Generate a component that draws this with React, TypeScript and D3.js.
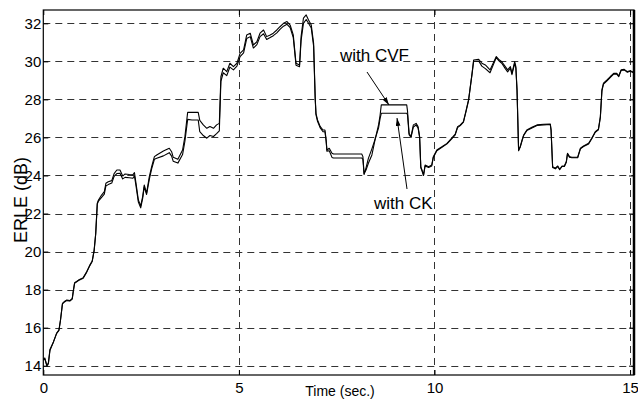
import React, { useEffect, useRef } from "react";
import * as d3 from "d3";

// time axis shared by both curves (seconds)
const time = [
  0.00, 0.04, 0.09, 0.13, 0.17, 0.26, 0.34, 0.40, 0.44, 0.49, 0.53, 0.60, 0.68, 0.74, 0.77, 0.80, 0.90,
  1.02, 1.11, 1.19, 1.25, 1.30, 1.34, 1.38, 1.41, 1.49, 1.56, 1.60, 1.66, 1.75, 1.81, 1.88, 1.96,
  2.03, 2.09, 2.20, 2.29, 2.33, 2.37, 2.43, 2.49, 2.54, 2.58, 2.64, 2.71, 2.77, 2.84, 2.90,
  3.07, 3.22, 3.28, 3.32, 3.44, 3.56, 3.62, 3.69, 3.80, 3.96,
  4.00, 4.09, 4.18, 4.26, 4.35, 4.43, 4.50, 4.54, 4.60, 4.69, 4.77, 4.86, 4.95,
  5.03, 5.12, 5.20, 5.29, 5.37, 5.46, 5.54, 5.63, 5.71, 5.80, 5.88, 5.97,
  6.05, 6.14, 6.23, 6.31, 6.39, 6.46, 6.55, 6.59, 6.65, 6.72, 6.78, 6.85, 6.91, 6.95, 6.97,
  7.01, 7.08, 7.15, 7.20, 7.23, 7.25, 7.31, 7.38, 7.42,
  8.14, 8.17, 8.20, 8.25, 8.31, 8.40, 8.48, 8.57, 8.61, 8.64,
  9.29, 9.31, 9.35, 9.40, 9.46, 9.53, 9.58, 9.62, 9.65, 9.68, 9.72, 9.76, 9.85, 9.93, 9.97,
  10.06, 10.19, 10.32, 10.44, 10.53, 10.59, 10.66, 10.74, 10.81, 10.87, 10.91, 10.96,
  11.00, 11.13, 11.21, 11.30, 11.42, 11.50, 11.58, 11.66, 11.72, 11.81, 11.87, 11.94, 11.98,
  12.05, 12.08, 12.11, 12.15, 12.19, 12.24, 12.28, 12.36, 12.49, 12.62, 12.79, 12.96, 12.98,
  13.02, 13.09, 13.15, 13.20, 13.26, 13.32, 13.37, 13.40, 13.45, 13.51, 13.66, 13.73, 13.81, 13.94,
  14.02, 14.11, 14.19, 14.24, 14.28, 14.32, 14.41, 14.49, 14.58, 14.66, 14.71, 14.77, 14.85, 14.93,
  15.00, 15.09,
];

// ERLE (dB) with CVF
const erleCVF = [
  14.35, 14.40, 14.00, 14.15, 14.85, 15.25, 15.70, 15.88, 16.40, 17.28, 17.36, 17.45, 17.42, 17.54, 17.98, 18.36, 18.50,
  18.63, 18.94, 19.29, 19.50, 20.08, 20.96, 22.54, 22.71, 22.97, 23.15, 23.59, 23.67, 23.73, 24.10, 24.29, 24.29,
  23.97, 24.08, 24.05, 24.03, 24.15, 23.59, 22.71, 22.40, 22.89, 23.50, 23.07, 23.94, 24.46, 24.99, 25.08,
  25.29, 25.43, 25.25, 24.96, 24.85, 25.34, 26.04, 27.32, 27.32, 27.32,
  26.90, 26.66, 26.48, 26.57, 26.48, 26.66, 26.74, 29.19, 29.64, 29.46, 29.90, 29.72, 29.90,
  30.42, 30.60, 31.39, 31.48, 30.86, 31.03, 31.48, 31.65, 31.30, 31.39, 31.48, 31.65,
  31.82, 32.00, 32.09, 31.91, 31.39, 29.90, 29.81, 31.30, 32.27, 32.44, 32.18, 31.91, 30.95, 28.14, 27.27,
  26.92, 26.57, 26.39, 26.39, 25.87, 25.34, 25.43, 25.17, 25.13,
  25.13, 24.99, 24.11, 24.29, 24.64, 25.08, 25.87, 26.66, 27.18, 27.71,
  27.71, 27.40, 26.22, 26.04, 26.66, 26.74, 26.57, 26.04, 24.46, 24.29, 24.03, 24.55, 24.46, 24.55, 24.99,
  25.34, 25.51, 25.69, 25.96, 26.17, 26.57, 26.66, 26.83, 27.44, 27.97, 28.58, 29.37,
  30.07, 30.11, 29.90, 29.81, 29.55, 29.90, 30.25, 30.07, 29.98, 29.72, 29.55, 29.72, 29.37,
  29.98, 29.72, 28.50, 25.34, 25.51, 25.87, 26.13, 26.39, 26.53, 26.66, 26.69, 26.71, 26.40,
  24.46, 24.38, 24.50, 24.33, 24.50, 24.50, 24.73, 25.17, 24.99, 24.96, 24.96, 25.43, 25.55, 25.69,
  25.96, 26.30, 26.43, 27.09, 28.50, 28.85, 29.02, 29.19, 29.37, 29.37, 29.23, 29.55, 29.58, 29.46,
  29.51, 29.43,
];

// ERLE (dB) with CK
const erleCK = [
  14.30, 14.35, 14.00, 14.10, 14.80, 15.25, 15.70, 15.85, 16.40, 17.25, 17.33, 17.42, 17.40, 17.50, 17.95, 18.33, 18.48,
  18.60, 18.92, 19.26, 19.48, 20.05, 20.92, 22.50, 22.65, 22.85, 23.02, 23.45, 23.52, 23.60, 23.95, 24.10, 24.12,
  23.82, 23.90, 23.88, 23.85, 23.98, 23.45, 22.60, 22.30, 22.80, 23.40, 23.00, 23.80, 24.35, 24.85, 24.90,
  25.03, 25.20, 25.02, 24.75, 24.65, 25.10, 25.80, 26.95, 26.92, 26.92,
  26.30, 26.10, 25.96, 26.10, 26.05, 26.20, 26.35, 28.95, 29.40, 29.25, 29.70, 29.55, 29.75,
  30.25, 30.45, 31.20, 31.30, 30.70, 30.88, 31.30, 31.45, 31.15, 31.25, 31.35, 31.50,
  31.68, 31.85, 31.95, 31.78, 31.25, 29.80, 29.72, 31.10, 32.00, 32.20, 32.00, 31.75, 30.80, 28.05, 27.20,
  26.85, 26.50, 26.30, 26.30, 25.80, 25.28, 25.30, 24.95, 24.92,
  24.92, 24.85, 24.05, 24.40, 24.90, 25.40, 25.90, 26.50, 27.00, 27.27,
  27.27, 27.20, 26.15, 26.00, 26.55, 26.65, 26.50, 26.00, 24.40, 24.25, 24.00, 24.50, 24.42, 24.50, 24.95,
  25.30, 25.48, 25.66, 25.92, 26.14, 26.52, 26.62, 26.80, 27.40, 27.93, 28.55, 29.33,
  30.00, 30.02, 29.75, 29.62, 29.40, 29.80, 30.20, 30.00, 29.90, 29.62, 29.45, 29.65, 29.30,
  29.90, 29.65, 28.45, 25.30, 25.48, 25.84, 26.10, 26.36, 26.50, 26.63, 26.66, 26.68, 26.38,
  24.42, 24.35, 24.47, 24.30, 24.47, 24.47, 24.70, 25.14, 24.96, 24.93, 24.93, 25.40, 25.52, 25.66,
  25.93, 26.27, 26.40, 27.05, 28.45, 28.80, 28.98, 29.15, 29.33, 29.33, 29.20, 29.52, 29.55, 29.43,
  29.48, 29.40,
];

const xTicks = [0, 5, 10, 15];
const yTicks = [14, 16, 18, 20, 22, 24, 26, 28, 30, 32];

const W = 638;
const H = 401;
const LEFT = 43.3;
const RIGHT = 634;
const TOP = 10;
const BOTTOM = 375;
const FONT = "'Liberation Sans', Arial, sans-serif";

export default function App() {
  const svgRef = useRef<SVGSVGElement | null>(null);

  useEffect(() => {
    if (!svgRef.current) return;
    const svg = d3.select(svgRef.current);
    svg.selectAll("*").remove();

    const x = d3.scaleLinear().domain([0, 15.1]).range([LEFT, RIGHT]);
    const y = d3.scaleLinear().domain([13.51, 32.7]).range([BOTTOM, TOP]);

    svg.append("rect").attr("width", W).attr("height", H).attr("fill", "#fff");

    const defs = svg.append("defs");
    defs.append("marker")
      .attr("id", "arrow")
      .attr("viewBox", "0 0 10 6")
      .attr("refX", 10).attr("refY", 3)
      .attr("markerWidth", 8).attr("markerHeight", 5)
      .attr("markerUnits", "userSpaceOnUse")
      .attr("orient", "auto")
      .append("path")
      .attr("d", "M0,0 L10,3 L0,6 Z")
      .attr("fill", "#000");

    // ── Grid ─────────────────────────────────────────────
    const grid = svg.append("g").attr("stroke", "#333").attr("stroke-width", 1).attr("stroke-dasharray", "7,5");
    yTicks.forEach(v => {
      grid.append("line")
        .attr("x1", LEFT).attr("x2", RIGHT)
        .attr("y1", Math.round(y(v)) + 0.5).attr("y2", Math.round(y(v)) + 0.5);
    });
    xTicks.filter(v => v > 0).forEach(v => {
      grid.append("line")
        .attr("x1", Math.round(x(v)) + 0.5).attr("x2", Math.round(x(v)) + 0.5)
        .attr("y1", TOP).attr("y2", BOTTOM);
    });

    // ── Axes (ticks inward) ──────────────────────────────
    const styleAxis = (g: d3.Selection<SVGGElement, unknown, null, undefined>) => {
      g.select(".domain").remove();
      g.selectAll(".tick line").attr("stroke", "#000");
      g.selectAll(".tick text")
        .attr("fill", "#000")
        .attr("font-size", "15px")
        .attr("font-family", FONT);
    };

    svg.append("g")
      .attr("transform", `translate(${LEFT},0)`)
      .call(d3.axisLeft(y).tickValues(yTicks).tickFormat(d3.format("d")).tickSize(-5).tickPadding(2))
      .call(styleAxis);

    svg.append("g")
      .attr("transform", `translate(${RIGHT},0)`)
      .call(d3.axisRight(y).tickValues(yTicks).tickSize(-5).tickFormat(() => ""))
      .call(styleAxis);

    svg.append("g")
      .attr("transform", `translate(0,${BOTTOM})`)
      .call(d3.axisBottom(x).tickValues(xTicks).tickFormat(d3.format("d")).tickSize(-5).tickPadding(7))
      .call(styleAxis);

    svg.append("g")
      .attr("transform", `translate(0,${TOP})`)
      .call(d3.axisTop(x).tickValues(xTicks).tickSize(-5).tickFormat(() => ""))
      .call(styleAxis);

    // ── Frame ────────────────────────────────────────────
    svg.append("rect")
      .attr("x", LEFT).attr("y", TOP)
      .attr("width", RIGHT - LEFT).attr("height", BOTTOM - TOP)
      .attr("fill", "none").attr("stroke", "#000").attr("stroke-width", 1.2);
    svg.append("line")
      .attr("x1", RIGHT).attr("x2", RIGHT).attr("y1", TOP).attr("y2", BOTTOM)
      .attr("stroke", "#000").attr("stroke-width", 2.5);

    // ── Curves ───────────────────────────────────────────
    const line = d3.line<number>()
      .x((_, i) => x(time[i]))
      .y(d => y(d));

    [erleCK, erleCVF].forEach(series => {
      svg.append("path")
        .datum(series)
        .attr("d", line)
        .attr("fill", "none")
        .attr("stroke", "#000")
        .attr("stroke-width", 1.1)
        .attr("stroke-linejoin", "round");
    });

    // ── Labels ───────────────────────────────────────────
    svg.append("text")
      .attr("x", 340).attr("y", 396)
      .attr("text-anchor", "middle")
      .attr("font-size", "14px").attr("font-family", FONT)
      .text("Time (sec.)");

    svg.append("text")
      .attr("transform", "translate(27,200) rotate(-90)")
      .attr("text-anchor", "middle")
      .attr("font-size", "18px").attr("font-family", FONT)
      .text("ERLE (dB)");

    // ── Annotations ──────────────────────────────────────
    svg.append("text")
      .attr("x", 340).attr("y", 61)
      .attr("font-size", "17px").attr("font-family", FONT)
      .text("with CVF");
    svg.append("line")
      .attr("x1", 367).attr("y1", 72).attr("x2", 389).attr("y2", 105)
      .attr("stroke", "#000").attr("stroke-width", 1)
      .attr("marker-end", "url(#arrow)");

    svg.append("text")
      .attr("x", 374).attr("y", 209)
      .attr("font-size", "17px").attr("font-family", FONT)
      .text("with CK");
    svg.append("line")
      .attr("x1", 407).attr("y1", 189).attr("x2", 397).attr("y2", 118)
      .attr("stroke", "#000").attr("stroke-width", 1)
      .attr("marker-end", "url(#arrow)");
  }, []);

  return (
    <svg
      ref={svgRef}
      width={W}
      height={H}
      style={{ position: "absolute", left: 0, top: 0, display: "block" }}
    />
  );
}
